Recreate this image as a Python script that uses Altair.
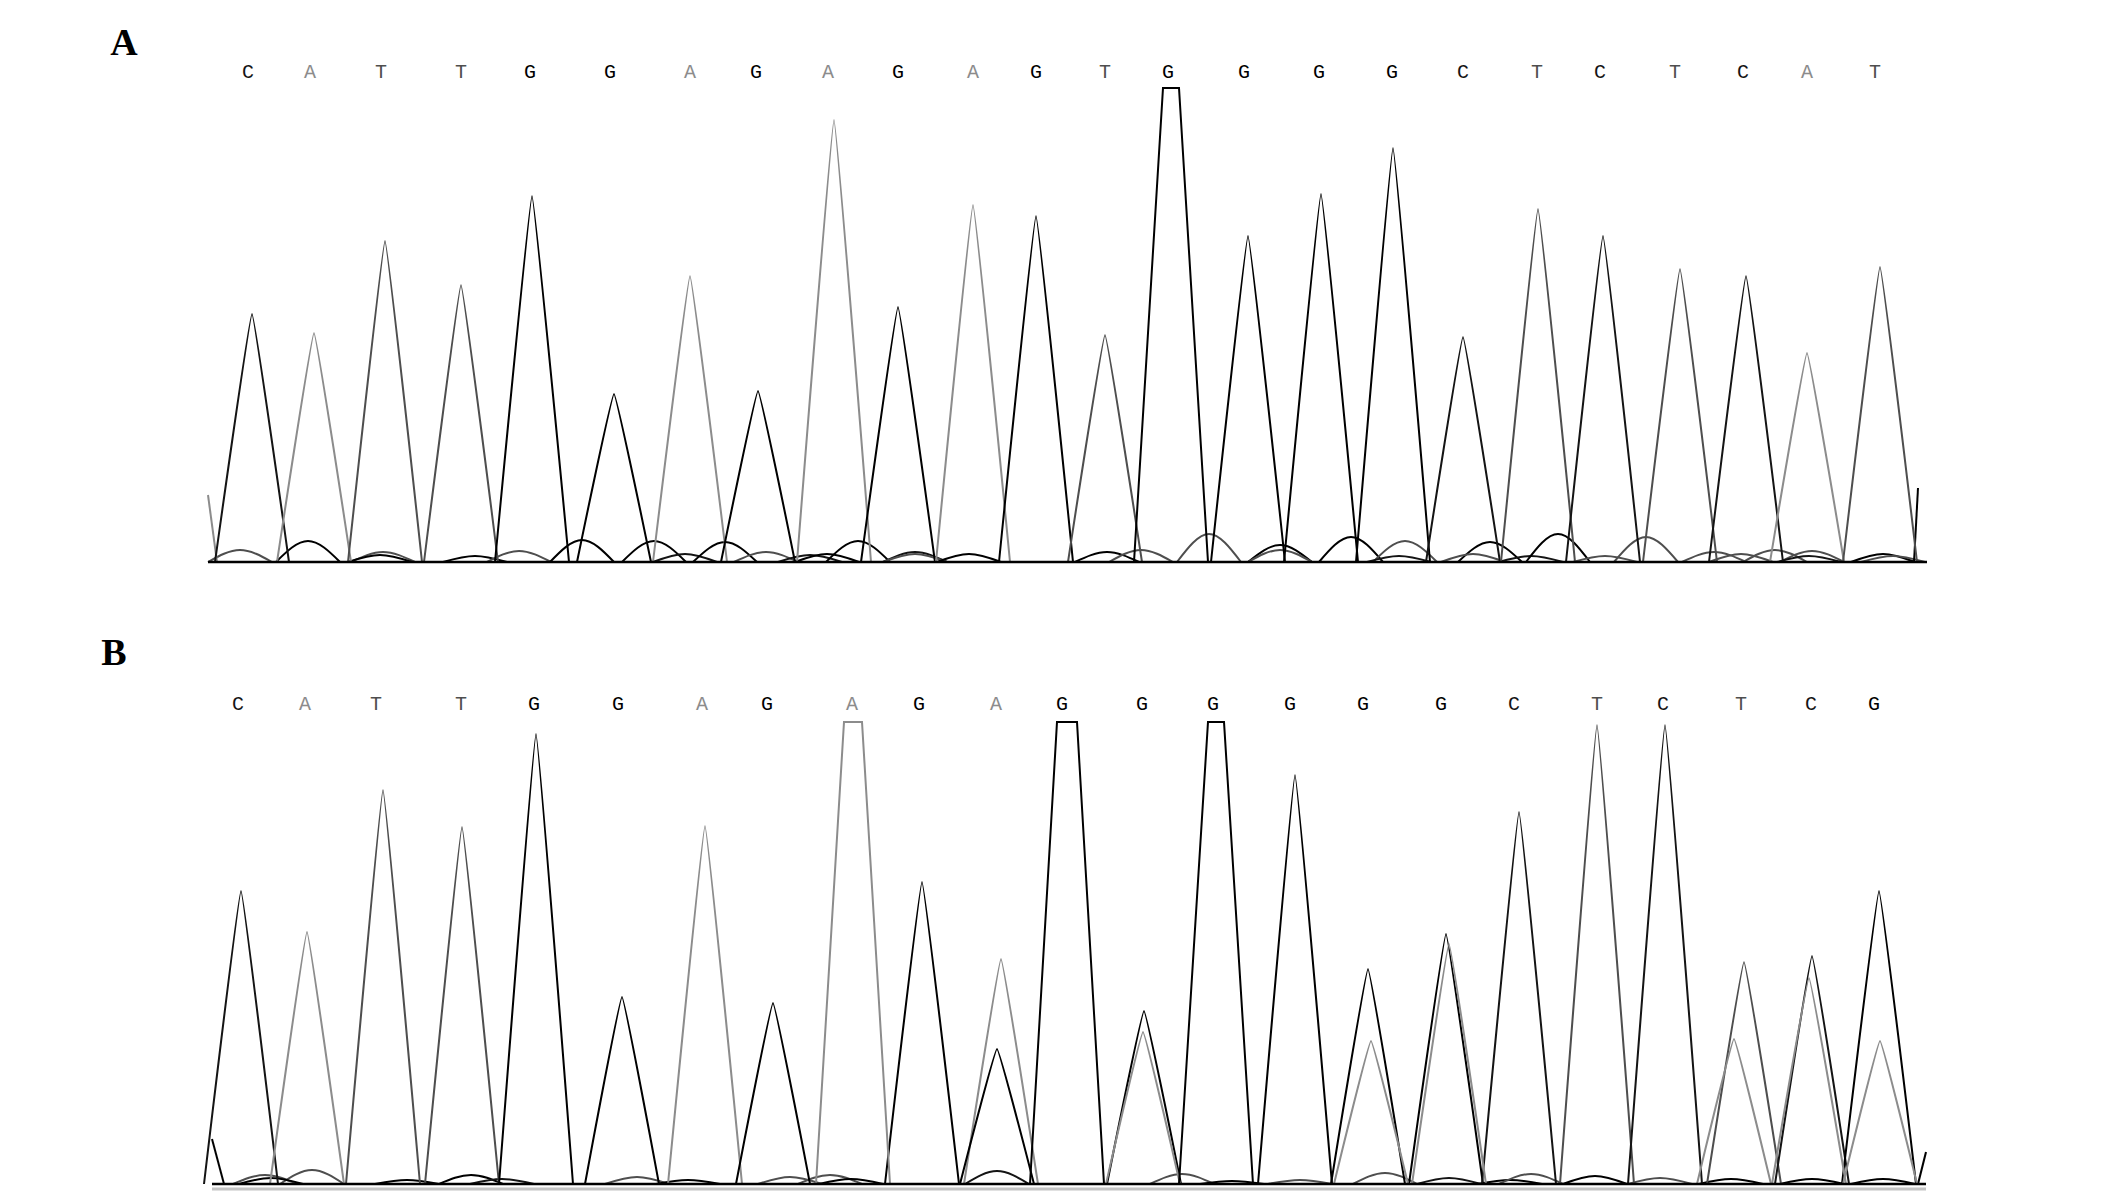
import altair as alt
import pandas as pd

# ---------------- Panel A (wild type) ----------------
A_BASES = list("CATTGGAGAGAGTGGGGCTCTCAT")
A_BASE_X = [248, 310, 381, 461, 530, 610, 690, 756, 828, 898, 973, 1036,
            1105, 1168, 1244, 1319, 1392, 1463, 1537, 1600, 1675, 1743, 1807, 1875]
A_PEAK_X = [252, 314, 385, 461, 532, 614, 690, 758, 834, 898, 973, 1036,
            1105, 1171, 1248, 1321, 1393, 1463, 1538, 1603, 1680, 1746, 1807, 1880]
A_PEAK_H = [248, 229, 321, 277, 366, 168, 286, 171, 442, 255, 357, 346,
            227, 474, 326, 368, 414, 225, 353, 326, 293, 286, 209, 295]
A_PEAK_TOP = [0, 0, 0, 0, 0, 0, 0, 0, 0, 0, 0, 0,
              0, 8, 0, 0, 0, 0, 0, 0, 0, 0, 0, 0]
A_SEC = []  # secondary peaks (x, height, channel)
A_NOISE = [(240, 12, "T"), (308, 21, "G"), (383, 10, "T"), (380, 7, "G"), (475, 6, "G"),
           (519, 11, "T"), (582, 22, "G"), (654, 21, "G"), (685, 8, "C"), (725, 20, "G"),
           (766, 10, "T"), (810, 7, "C"), (827, 8, "G"), (858, 21, "G"), (915, 10, "C"),
           (915, 8, "T"), (969, 8, "G"), (1107, 10, "G"), (1141, 12, "T"), (1209, 28, "T"),
           (1280, 17, "G"), (1280, 12, "T"), (1351, 25, "G"), (1405, 21, "T"), (1399, 6, "C"),
           (1490, 20, "G"), (1473, 8, "T"), (1531, 6, "C"), (1558, 28, "G"), (1605, 6, "T"),
           (1646, 25, "T"), (1714, 10, "T"), (1741, 8, "T"), (1775, 12, "T"), (1812, 11, "T"),
           (1809, 6, "C"), (1883, 8, "G"), (1893, 6, "T")]
A_EDGES = [[(208, 67, "A"), (217, 0, "A")], [(1914, 0, "G"), (1918, 74, "G")]]
A_RANGE = [208, 1927]

# ---------------- Panel B (mutant) ----------------
B_BASES = list("CATTGGAGAGAGGGGGGCTCTCG")
B_BASE_X = [238, 305, 376, 461, 534, 618, 702, 767, 852, 919, 996, 1062,
            1142, 1213, 1290, 1363, 1441, 1514, 1597, 1663, 1741, 1811, 1874]
B_PEAK_X = [241, 307, 383, 462, 536, 622, 705, 773, 853, 922, 1001, 1067,
            1144, 1216, 1295, 1368, 1446, 1519, 1597, 1665, 1744, 1812, 1879]
B_PEAK_H = [293, 252, 394, 357, 450, 187, 358, 181, 462, 302, 225, 462,
            173, 462, 409, 215, 250, 372, 459, 459, 222, 228, 293]
B_PEAK_TOP = [0, 0, 0, 0, 0, 0, 0, 0, 9, 0, 0, 10,
              0, 8, 0, 0, 0, 0, 0, 0, 0, 0, 0]
B_SEC = [(997, 135, "G"), (1143, 152, "A"), (1371, 143, "A"), (1449, 240, "A"),
         (1734, 145, "A"), (1809, 206, "A"), (1880, 143, "A")]
B_NOISE = [(265, 9, "T"), (312, 14, "T"), (271, 6, "G"), (407, 4, "G"), (471, 9, "G"),
           (502, 5, "C"), (637, 7, "T"), (688, 4, "G"), (790, 7, "T"), (830, 9, "T"),
           (851, 5, "G"), (997, 13, "C"), (1182, 10, "T"), (1232, 3, "G"), (1300, 4, "T"),
           (1385, 11, "T"), (1449, 6, "C"), (1510, 4, "G"), (1531, 10, "T"), (1595, 8, "G"),
           (1660, 6, "T"), (1731, 5, "G"), (1812, 5, "G"), (1883, 5, "G")]
B_EDGES = [[(212, 45, "G"), (224, 0, "G")], [(1918, 0, "G"), (1926, 32, "G")]]
B_RANGE = [212, 1926]

CHANNELS = ["A", "C", "G", "T"]
CH_COLORS = ["#8c8c8c", "#141414", "#000000", "#4e4e4e"]

PEAK_HW = 37
NOISE_HW = 32

cs = alt.Scale(domain=CHANNELS, range=CH_COLORS)
xs = alt.Scale(domain=[8, 2118], nice=False, zero=False)


def build(bases, peak_x, peak_h, peak_top, sec, noise, edges):
    tri, flat, bump, edge = [], [], [], []
    pid = 0
    for x, h, t, b in zip(peak_x, peak_h, peak_top, bases):
        pid += 1
        if t > 0:
            pts = [(x - PEAK_HW, 0), (x - t, h), (x + t, h), (x + PEAK_HW, 0)]
            target = flat
        else:
            pts = [(x - PEAK_HW, 0), (x, h), (x + PEAK_HW, 0)]
            target = tri
        for i, (px, py) in enumerate(pts):
            target.append({"pid": pid, "x": px, "y": py, "base": b, "ord": i})
    for x, h, b in sec:
        pid += 1
        for i, (px, py) in enumerate([(x - PEAK_HW, 0), (x, h), (x + PEAK_HW, 0)]):
            tri.append({"pid": pid, "x": px, "y": py, "base": b, "ord": i})
    for x, h, b in noise:
        pid += 1
        for i, (px, py) in enumerate([(x - NOISE_HW, 0), (x, h), (x + NOISE_HW, 0)]):
            bump.append({"pid": pid, "x": px, "y": py, "base": b, "ord": i})
    for seg in edges:
        pid += 1
        for i, (px, py, b) in enumerate(seg):
            edge.append({"pid": pid, "x": px, "y": py, "base": b, "ord": i})
    return (pd.DataFrame(tri), pd.DataFrame(flat), pd.DataFrame(bump), pd.DataFrame(edge))


def panel(label, bases, base_x, peak_x, peak_h, peak_top, sec, noise, edges, rng,
          height, letter_y, label_xy, under_line):
    ys = alt.Scale(domain=[0, height], nice=False, zero=False)
    tri, flat, bump, edge = build(bases, peak_x, peak_h, peak_top, sec, noise, edges)

    def enc(ch):
        return ch.encode(
            x=alt.X("x:Q", scale=xs, axis=None),
            y=alt.Y("y:Q", scale=ys, axis=None),
            color=alt.Color("base:N", scale=cs, legend=None),
            detail="pid:N",
            order="ord:Q",
        )

    layers = []
    layers.append(enc(alt.Chart(bump).mark_line(interpolate="monotone", strokeWidth=2)))
    if len(edge):
        layers.append(enc(alt.Chart(edge).mark_line(strokeWidth=2)))
    layers.append(enc(alt.Chart(tri).mark_line(interpolate="cardinal", tension=0.8, strokeWidth=2)))
    if len(flat):
        layers.append(enc(alt.Chart(flat).mark_line(strokeWidth=2)))

    base_df = pd.DataFrame({"x0": [rng[0]], "x1": [rng[1]], "y": [0]})
    if under_line:
        under = pd.DataFrame({"x0": [rng[0]], "x1": [rng[1]], "y": [-5]})
        layers.append(alt.Chart(under).mark_rule(color="#c4c4c4", strokeWidth=3).encode(
            x=alt.X("x0:Q", scale=xs, axis=None), x2="x1:Q",
            y=alt.Y("y:Q", scale=ys, axis=None)))
    layers.append(alt.Chart(base_df).mark_rule(color="#000000", strokeWidth=2.5).encode(
        x=alt.X("x0:Q", scale=xs, axis=None), x2="x1:Q",
        y=alt.Y("y:Q", scale=ys, axis=None)))

    letters = pd.DataFrame({"x": base_x, "y": [letter_y] * len(base_x), "base": bases})
    layers.append(alt.Chart(letters).mark_text(
        font="Courier New, Liberation Mono", fontSize=20, baseline="middle", align="center").encode(
        x=alt.X("x:Q", scale=xs, axis=None),
        y=alt.Y("y:Q", scale=ys, axis=None),
        color=alt.Color("base:N", scale=cs, legend=None),
        text="base:N"))

    lab = pd.DataFrame({"x": [label_xy[0]], "y": [label_xy[1]], "t": [label]})
    layers.append(alt.Chart(lab).mark_text(
        font="Liberation Serif", fontWeight="bold", fontSize=38,
        baseline="middle", align="center", color="#000000").encode(
        x=alt.X("x:Q", scale=xs, axis=None),
        y=alt.Y("y:Q", scale=ys, axis=None),
        text="t:N"))

    return alt.layer(*layers).properties(
        width=2110, height=height,
        view=alt.ViewBackground(stroke="transparent", strokeWidth=0))


pA = panel("A", A_BASES, A_BASE_X, A_PEAK_X, A_PEAK_H, A_PEAK_TOP, A_SEC, A_NOISE, A_EDGES,
           A_RANGE, 554, 490, (124, 518), False)
pB = panel("B", B_BASES, B_BASE_X, B_PEAK_X, B_PEAK_H, B_PEAK_TOP, B_SEC, B_NOISE, B_EDGES,
           B_RANGE, 580, 480, (114, 530), True)

chart = alt.vconcat(pA, pB, spacing=38).properties(padding=0).configure_view(
    stroke="transparent", strokeWidth=0).configure(background="#ffffff")

chart.save("out.html", embed_options={"renderer": "svg", "actions": False})
